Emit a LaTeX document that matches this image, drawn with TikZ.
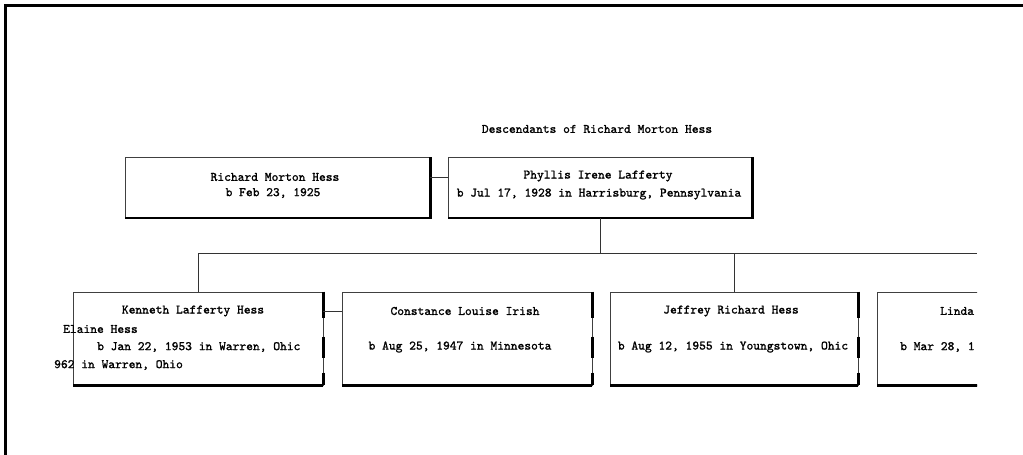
\documentclass[tikz,border=0pt]{standalone}
\usepackage{fontspec}
\newfontfamily\chartfont{lmmono10-regular.otf}[FakeBold=1.3]
\usetikzlibrary{positioning}

\begin{document}
\begin{tikzpicture}[
    x=1pt, y=-1pt,
    every node/.style={font=\chartfont\fontsize{12.9}{18}\selectfont, inner sep=0pt},
    personbox/.style={draw=black!75, line width=0.6pt, minimum width=#1},
    topbox/.style={personbox=#1, minimum height=60pt},
    kidbox/.style={personbox=#1, minimum height=93pt},
    shadow/.style={line width=2.6pt},
    gappy/.style={shadow, dash pattern=on 26pt off 19pt on 21pt off 15pt on 12pt},
    link/.style={line width=0.6pt, black!80}
]
\useasboundingbox (0,0) rectangle (1023,455);

\draw[line width=3pt] (5,455) -- (5,5) -- (1023,5);

\node (title) at (597,129) {Descendants of Richard Morton Hess};

\node[topbox=305pt] (rmh) at (277.5,187.5) {};
\node (rmh1) at (275,177) {Richard Morton Hess};
\node (rmh2) at (273,193) {b Feb 23, 1925};

\node[topbox=304pt] (pil) at (600,187.5) {};
\node (pil1) at (598,176) {Phyllis Irene Lafferty};
\node (pil2) at (599,194) {b Jul 17, 1928 in Harrisburg, Pennsylvania};

\draw[shadow] (rmh.north east) -- (rmh.south east) -- (rmh.south west);
\draw[shadow] (pil.north east) -- (pil.south east) -- (pil.south west);
\draw[link] (rmh.east |- rmh1) -- (pil.west |- rmh1);

\node[kidbox=250pt] (klh) at (198,338.5) {};
\node (klh1) at (193,311) {Kenneth Lafferty Hess};
\node[anchor=west] (klh2) at (63,329) {Elaine Hess};
\node[anchor=west] (klh3) at (97,347) {b Jan 22, 1953 in Warren, Ohic};
\node[anchor=west] (klh4) at (54,365) {962 in Warren, Ohio};

\node[kidbox=250pt] (cli) at (467,338.5) {};
\node (cli1) at (465,311) {Constance Louise Irish};
\node (cli2) at (460,347) {b Aug 25, 1947 in Minnesota};

\node[kidbox=248pt] (jrh) at (734,338.5) {};
\node (jrh1) at (731,311) {Jeffrey Richard Hess};
\node (jrh2) at (733,347) {b Aug 12, 1955 in Youngstown, Ohic};

\begin{scope}
\clip (0,0) rectangle (977,455);
\node[kidbox=250pt] (lin) at (1002,338.5) {};
\node[anchor=west] (lin1) at (940,311) {Linda};
\node[anchor=west] (lin2) at (900,347) {b Mar 28, 1};
\draw[shadow] (lin.south east) -- (lin.south west);
\end{scope}

\foreach \k in {klh,cli,jrh} {
  \draw[gappy] (\k.north east) -- (\k.south east);
  \draw[shadow] (\k.south east) -- (\k.south west);
}
\draw[link] (klh.east |- klh1) -- (cli.west |- klh1);

\coordinate (bus) at (198,253);
\coordinate (busend) at (977,253);
\draw[link] (pil.south) -- (pil.south |- bus);
\draw[link] (bus) -- (busend);
\draw[link] (klh.north |- bus) -- (klh.north);
\draw[link] (jrh.north |- bus) -- (jrh.north);

\end{tikzpicture}
\end{document}
